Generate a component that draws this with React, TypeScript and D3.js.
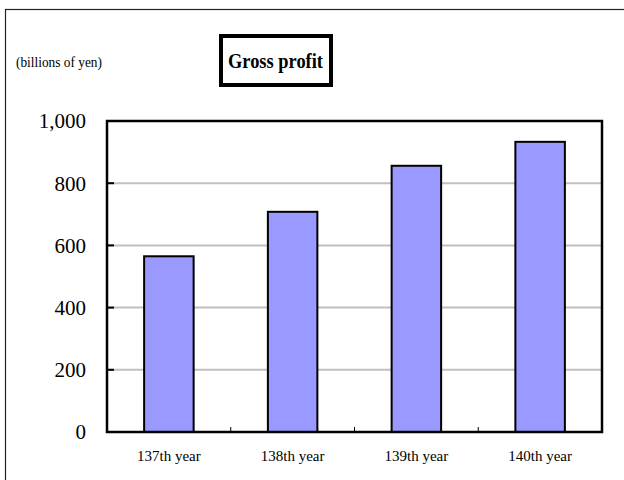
import * as d3 from "d3";

const years = ["137th year", "138th year", "139th year", "140th year"];
const grossProfit = [565, 708, 856, 933];
const yTicks = [0, 200, 400, 600, 800, 1000];

const W = 624;
const H = 480;
const plot = { left: 107, right: 602, top: 121, bottom: 432 };

export default function App() {
  const x = d3.scaleBand<string>().domain(years).range([plot.left, plot.right]).paddingInner(0.6).paddingOuter(0.3);
  const band = d3.scaleBand<string>().domain(years).range([plot.left, plot.right]);
  const y = d3.scaleLinear().domain([0, 1000]).range([plot.bottom, plot.top]);
  const fmt = d3.format(",");
  const font = "'Liberation Serif', 'Times New Roman', serif";

  return (
    <svg
      width={W}
      height={H}
      style={{ position: "absolute", left: 0, top: 0, background: "#fff" }}
      fontFamily={font}
    >
      {/* outer frame, runs off the bottom/right */}
      <rect x={5.5} y={9.5} width={W + 20} height={H + 20} fill="none" stroke="#222" strokeWidth={1.2} />

      <text x={16} y={67} fontSize={14} textLength={86} lengthAdjust="spacingAndGlyphs">(billions of yen)</text>

      <rect x={221} y={36} width={110} height={49} fill="#fff" stroke="#000" strokeWidth={4} />
      <text x={228} y={68} fontSize={22} fontWeight="bold" textLength={95} lengthAdjust="spacingAndGlyphs">Gross profit</text>

      {/* grid */}
      {yTicks.slice(1, -1).map((t) => (
        <line key={t} x1={plot.left} x2={plot.right} y1={y(t)} y2={y(t)} stroke="#c0c0c0" strokeWidth={2} />
      ))}

      {/* bars */}
      {years.map((c, i) => (
        <rect
          key={c}
          x={x(c)!}
          y={y(grossProfit[i])}
          width={x.bandwidth()}
          height={y(0) - y(grossProfit[i])}
          fill="#9999ff"
          stroke="#000"
          strokeWidth={2}
        />
      ))}

      <rect
        x={plot.left}
        y={plot.top}
        width={plot.right - plot.left}
        height={plot.bottom - plot.top}
        fill="none"
        stroke="#000"
        strokeWidth={2.5}
      />

      {/* y ticks */}
      {yTicks.map((t) => (
        <g key={t}>
          <line x1={plot.left} x2={plot.left + 7} y1={y(t)} y2={y(t)} stroke="#000" strokeWidth={2} />
          <text x={86} y={y(t)} dy="0.35em" fontSize={21} textAnchor="end">{fmt(t)}</text>
        </g>
      ))}

      {/* x ticks at band boundaries */}
      {years.slice(1).map((c) => (
        <line key={c} x1={band(c)!} x2={band(c)!} y1={plot.bottom} y2={plot.bottom - 5} stroke="#000" strokeWidth={1} />
      ))}
      {years.map((c) => (
        <text key={c} x={band(c)! + band.bandwidth() / 2} y={461} fontSize={15} textAnchor="middle">{c}</text>
      ))}
    </svg>
  );
}
